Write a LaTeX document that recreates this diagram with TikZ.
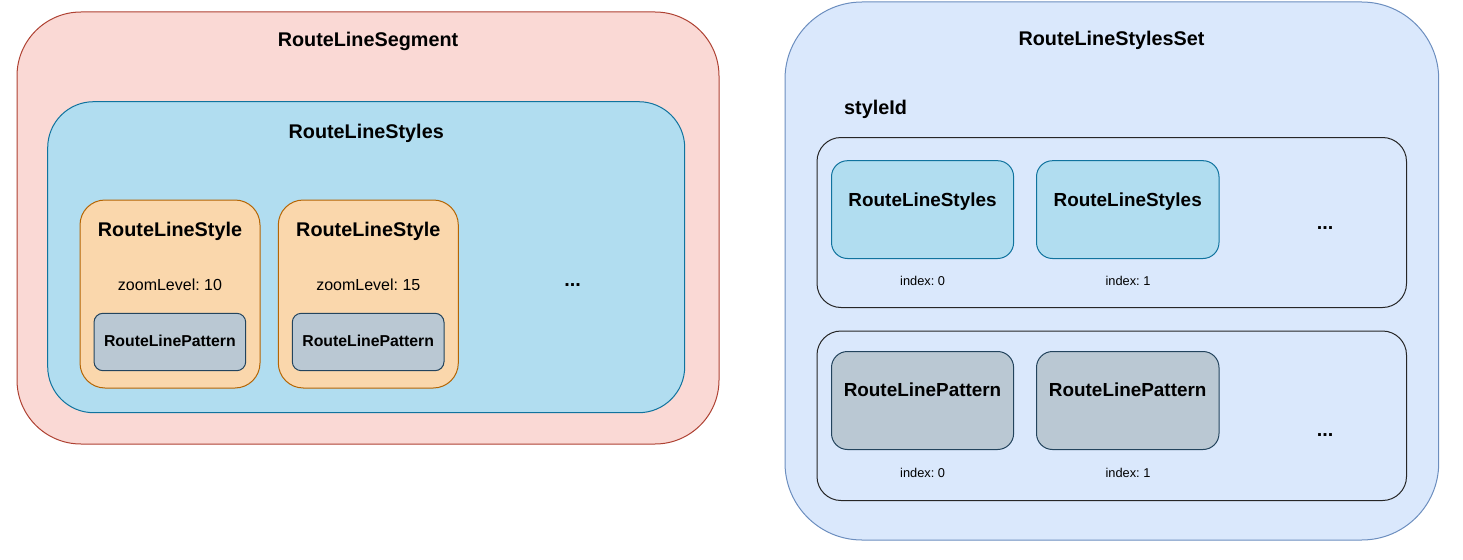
\documentclass[tikz,border=0pt]{standalone}
\usepackage{fontspec}
\setmainfont{Liberation Sans}
\definecolor{segfill}{HTML}{FAD9D5}
\definecolor{segdraw}{HTML}{AE4132}
\definecolor{stfill}{HTML}{B1DDF0}
\definecolor{stdraw}{HTML}{10739E}
\definecolor{orfill}{HTML}{FAD7AC}
\definecolor{ordraw}{HTML}{B46504}
\definecolor{gyfill}{HTML}{BAC8D3}
\definecolor{gydraw}{HTML}{23445D}
\definecolor{setfill}{HTML}{DAE8FC}
\definecolor{setdraw}{HTML}{6C8EBF}
\begin{document}
\frenchspacing
\begin{tikzpicture}[x=1pt,y=-1pt,
  box/.style={draw, rounded corners=#1, anchor=north west, inner sep=0pt, outer sep=0pt, line width=1pt},
  txt/.style={anchor=base, inner sep=0pt},
  big/.style={txt, font=\fontsize{19.8}{22}\selectfont\bfseries},
  mid/.style={txt, font=\fontsize{18.9}{22}\selectfont\bfseries},
  small/.style={txt, font=\fontsize{15.8}{18}\selectfont\bfseries},
  reg/.style={txt, font=\fontsize{16}{18}\selectfont},
  idx/.style={txt, font=\fontsize{12.8}{15}\selectfont}]
\useasboundingbox (0,0) rectangle (1463,559);

% ---- left: RouteLineSegment ----
\node[box=64pt, fill=segfill, draw=segdraw, minimum width=702pt, minimum height=432pt] (seg) at (17,12) {};
\node[big] (segT) at (368,46.7) {RouteLineSegment};
\node[box=46pt, fill=stfill, draw=stdraw, minimum width=637pt, minimum height=311pt] (sty) at (47.7,101.7) {};
\node[big] (styT) at (366.2,138.3) {RouteLineStyles};

\node[box=25pt, fill=orfill, draw=ordraw, minimum width=180pt, minimum height=188pt] (o1) at (80,200) {};
\node[box=25pt, fill=orfill, draw=ordraw, minimum width=180pt, minimum height=188pt] (o2) at (278.3,200) {};
\node[big] (o1T) at (170,236.4) {RouteLineStyle};
\node[big] (o2T) at (368.3,236.4) {RouteLineStyle};
\node[reg] (o1Z) at (170,290.3) {zoomLevel: 10};
\node[reg] (o2Z) at (368.3,290.3) {zoomLevel: 15};
\node[box=9pt, fill=gyfill, draw=gydraw, minimum width=151.7pt, minimum height=57.4pt] (p1) at (94,313.3) {};
\node[box=9pt, fill=gyfill, draw=gydraw, minimum width=151.7pt, minimum height=57.4pt] (p2) at (292.3,313.3) {};
\node[small] (p1T) at (169.9,346.3) {RouteLinePattern};
\node[small] (p2T) at (368.2,346.3) {RouteLinePattern};
\node[big] (dotsL) at (572.5,286.5) {...};

% ---- right: RouteLineStylesSet ----
\node[box=77pt, fill=setfill, draw=setdraw, minimum width=653.7pt, minimum height=538pt] (set) at (785,2) {};
\node[big] (setT) at (1111.5,46) {RouteLineStylesSet};
\node[big, anchor=base west] (sid) at (844,115) {styleId};

\node[box=24pt, draw=black!85, minimum width=589.5pt, minimum height=170pt] (row1) at (817,137.5) {};
\node[box=24pt, draw=black!85, minimum width=589.5pt, minimum height=169.5pt] (row2) at (817,331) {};

\node[box=16pt, fill=stfill, draw=stdraw, minimum width=182.1pt, minimum height=97.8pt] (s1) at (831.5,160.7) {};
\node[box=16pt, fill=stfill, draw=stdraw, minimum width=182.5pt, minimum height=97.8pt] (s2) at (1036.5,160.7) {};
\node[mid] (s1T) at (922.5,206.2) {RouteLineStyles};
\node[mid] (s2T) at (1127.7,206.2) {RouteLineStyles};
\node[idx] (s1I) at (922.6,285.6) {index: 0};
\node[idx] (s2I) at (1128,285.6) {index: 1};
\node[big] (dots1) at (1325,229) {...};

\node[box=16pt, fill=gyfill, draw=gydraw, minimum width=182.1pt, minimum height=98pt] (q1) at (831.5,351.5) {};
\node[box=16pt, fill=gyfill, draw=gydraw, minimum width=182.5pt, minimum height=98pt] (q2) at (1036.5,351.5) {};
\node[mid] (q1T) at (922.5,396.8) {RouteLinePattern};
\node[mid] (q2T) at (1127.7,396.8) {RouteLinePattern};
\node[idx] (q1I) at (922.6,477) {index: 0};
\node[idx] (q2I) at (1128,477) {index: 1};
\node[big] (dots2) at (1325,436.5) {...};
\end{tikzpicture}
\end{document}
